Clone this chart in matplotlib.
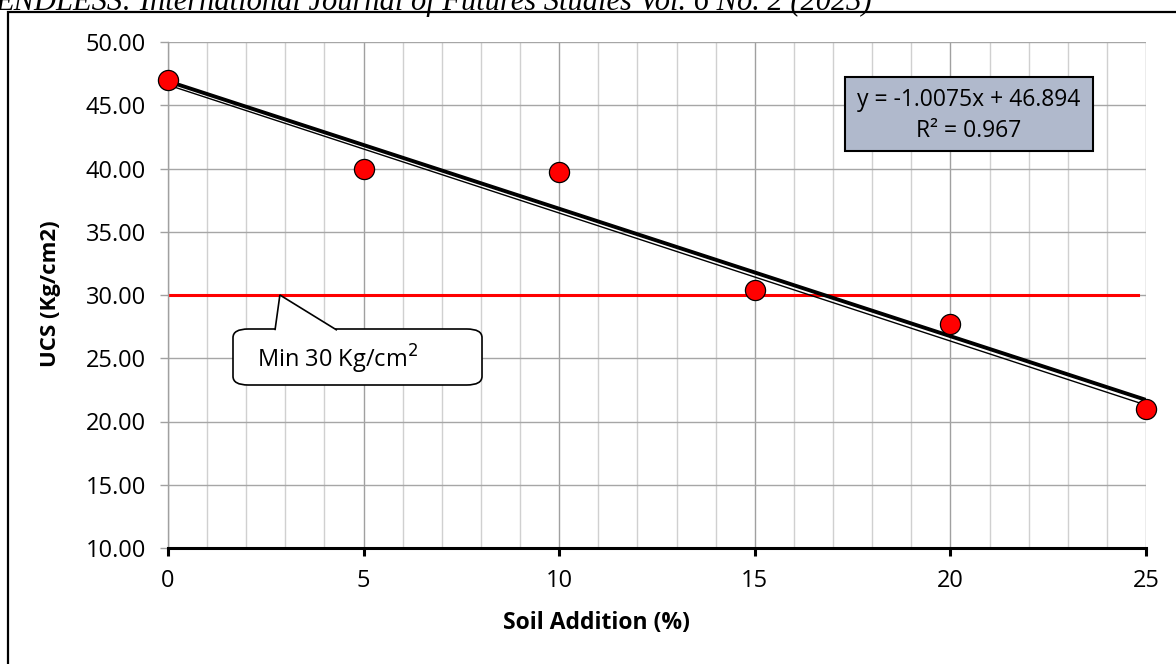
import matplotlib.pyplot as plt
from matplotlib.patches import FancyBboxPatch, Rectangle, Polygon
from matplotlib.ticker import MultipleLocator, FormatStrFormatter

# Données
soil_addition = [0, 5, 10, 15, 20, 25]
ucs = [47.0, 40.0, 39.7, 30.4, 27.7, 21.0]
slope = -1.0075
intercept = 46.894
r2 = 0.967
min_ucs = 30.0
min_line_x = [0, 24.8]
thin_line_x = [0, 25]
thin_line_y = [46.6, 21.3]

W, H = 1176, 664
fig = plt.figure(figsize=(W / 100, H / 100), dpi=100)
plt.rcParams['font.family'] = ['Open Sans', 'DejaVu Sans']

def px(x, y):
    return (x / W, 1 - y / H)

# En-tête de la revue (coupé en haut)
fig.text(-0.004, 1 - 10 / H, 'ENDLESS: International Journal of Futures Studies Vol. 6 No. 2 (2023)',
         family='Liberation Serif', style='italic', fontsize=22, va='baseline', ha='left')

# Cadre extérieur
fig.patches.append(Rectangle((8 / W, -0.1), 1.2, 1 - 12 / H + 0.1, transform=fig.transFigure,
                             fill=False, edgecolor='black', linewidth=1.6, zorder=0))

ax = fig.add_axes([168 / W, 1 - 548 / H, (1146 - 168) / W, (548 - 42) / H])
ax.set_xlim(0, 25)
ax.set_ylim(10, 50)

# Grille
ax.xaxis.set_major_locator(MultipleLocator(5))
ax.xaxis.set_minor_locator(MultipleLocator(1))
ax.yaxis.set_major_locator(MultipleLocator(5))
ax.yaxis.set_major_formatter(FormatStrFormatter('%.2f'))
ax.grid(True, which='minor', axis='x', color='#d0d0d0', linewidth=1.0)
ax.grid(True, which='major', axis='x', color='#a0a0a0', linewidth=1.0)
ax.grid(True, which='major', axis='y', color='#a6a6a6', linewidth=1.0)
ax.set_axisbelow(True)

for s in ['top', 'right']:
    ax.spines[s].set_visible(False)
ax.spines['left'].set_color('#a0a0a0')
ax.spines['left'].set_linewidth(1.0)
ax.spines['bottom'].set_color('black')
ax.spines['bottom'].set_linewidth(2.2)

ax.tick_params(axis='y', which='major', direction='out', length=6, width=1, color='#a0a0a0',
               labelsize=17, pad=10)
ax.tick_params(axis='x', which='major', direction='out', length=6, width=2.2, color='black',
               labelsize=17, pad=9)
ax.tick_params(axis='x', which='minor', length=0)

# Ligne minimale
ax.plot(min_line_x, [min_ucs, min_ucs], color='red', linewidth=2.2, zorder=2)

# Ligne de tendance + trait fin
ax.plot(thin_line_x, thin_line_y, color='black', linewidth=1.0, zorder=3)
xs = [soil_addition[0], soil_addition[-1]]
ax.plot(xs, [slope * x + intercept for x in xs], color='black', linewidth=2.8, zorder=3)

# Points
ax.plot(soil_addition, ucs, 'o', color='red', markeredgecolor='black', markeredgewidth=0.9,
        markersize=14.5, zorder=4, clip_on=False)

# Titres des axes
fig.text(*px(503, 623), 'Soil Addition (%)', ha='left', va='center', fontsize=16.5,
         fontweight='bold')
fig.text(*px(51, 294), 'UCS (Kg/cm2)', ha='center', va='center', rotation=90, fontsize=16,
         fontweight='bold')

# Boîte d'équation
x0, y0 = px(845, 151)
x1, y1 = px(1093, 77)
fig.patches.append(Rectangle((x0, y0), x1 - x0, y1 - y0, transform=fig.transFigure,
                             facecolor='#b0b9cc', edgecolor='black', linewidth=1.5, zorder=5))
fig.text(*px(969, 100), 'y = -1.0075x + 46.894', ha='center', va='center', fontsize=16.5, zorder=6)
fig.text(*px(969, 131), 'R² = 0.967', ha='center', va='center', fontsize=16.5, zorder=6)

# Bulle "Min 30"
bx0, by0 = px(233, 385)
bx1, by1 = px(482, 329)
fig.patches.append(FancyBboxPatch((bx0, by0), bx1 - bx0, by1 - by0, transform=fig.transFigure,
                                  boxstyle='round,pad=0,rounding_size=0.013', facecolor='white',
                                  edgecolor='black', linewidth=1.2, zorder=5))
tip = ax.transData.transform((2.86, min_ucs))
tip = fig.transFigure.inverted().transform(tip)
fig.patches.append(Polygon([px(275, 330.2), tip, px(337, 330.2)], closed=False,
                           transform=fig.transFigure, facecolor='white', edgecolor='black',
                           linewidth=1.2, zorder=6))
fig.text(*px(257, 359), 'Min 30 Kg/cm$^2$', ha='left', va='center', fontsize=17, zorder=7)

plt.savefig('out.png', dpi=100)
